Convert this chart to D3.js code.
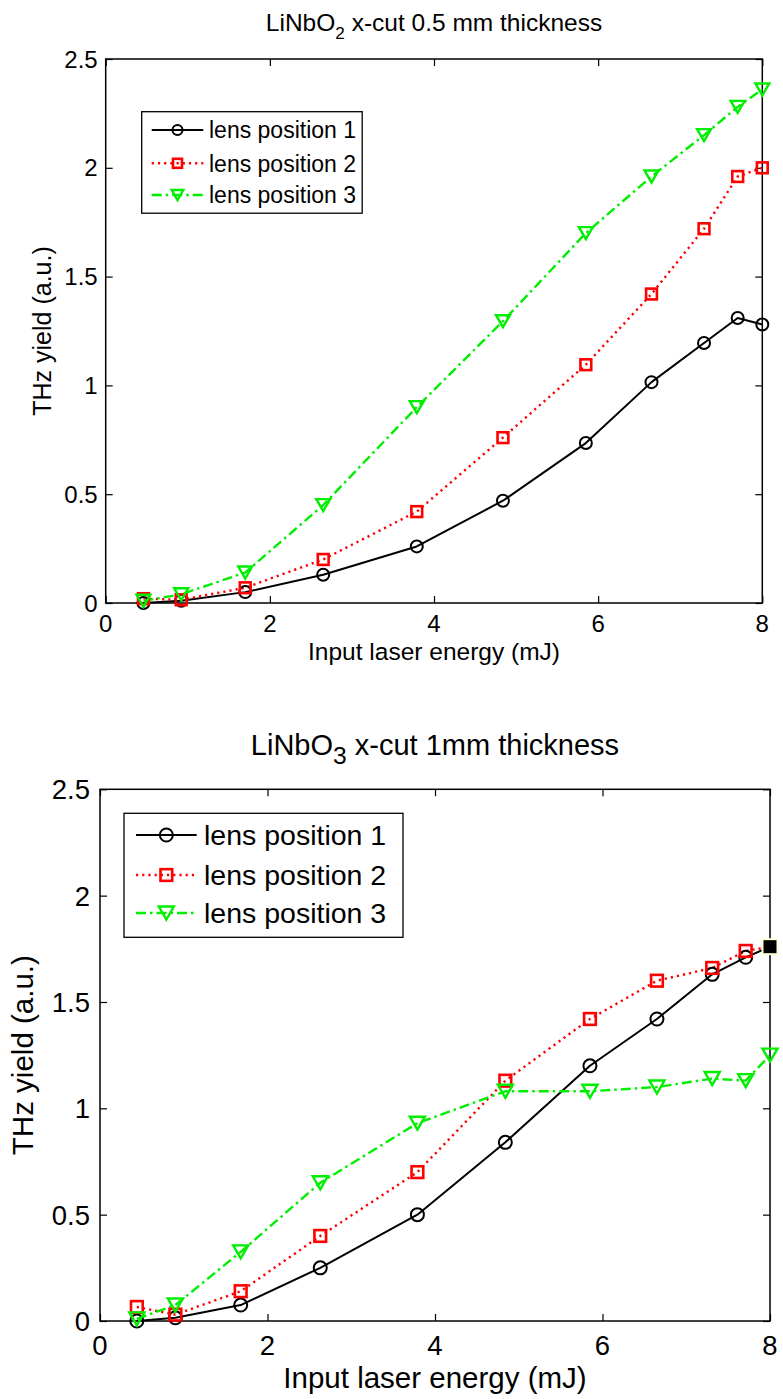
<!DOCTYPE html>
<html>
<head>
<meta charset="utf-8">
<script src="https://cdn.jsdelivr.net/npm/d3@7"></script>
<style>
  html, body { margin: 0; padding: 0; background: #fff; }
  svg { display: block; font-family: Arial, "Liberation Sans", Helvetica, sans-serif; }
</style>
</head>
<body>
<svg id="chart" width="783" height="1399"></svg>
<script>
// ---------- data ----------
const seriesNames = ["lens position 1", "lens position 2", "lens position 3"];
const xTicks = [0, 2, 4, 6, 8];
const yTicks = [0, 0.5, 1, 1.5, 2, 2.5];
const yTickLabels = ["0", "0.5", "1", "1.5", "2", "2.5"];

// Top panel: LiNbO2 x-cut 0.5 mm
const topEnergy = [0.46, 0.92, 1.70, 2.65, 3.79, 4.84, 5.85, 6.65, 7.29, 7.70, 8.0];
const topLens1 = [0.00, 0.01, 0.05, 0.13, 0.26, 0.47, 0.735, 1.015, 1.195, 1.31, 1.28];
const topLens2 = [0.02, 0.015, 0.07, 0.20, 0.42, 0.76, 1.095, 1.42, 1.72, 1.96, 2.00];
const topLens3 = [0.01, 0.04, 0.14, 0.45, 0.90, 1.295, 1.70, 1.96, 2.15, 2.28, 2.36];

// Bottom panel: LiNbO3 x-cut 1 mm
const botEnergy = [0.44, 0.90, 1.68, 2.63, 3.79, 4.84, 5.85, 6.65, 7.31, 7.71, 8.0];
const botLens1 = [0.00, 0.015, 0.075, 0.25, 0.50, 0.84, 1.20, 1.42, 1.63, 1.71, 1.76];
const botLens2 = [0.066, 0.03, 0.14, 0.40, 0.70, 1.13, 1.42, 1.60, 1.66, 1.74, 1.76];
const botLens3 = [0.01, 0.075, 0.325, 0.65, 0.93, 1.08, 1.08, 1.10, 1.14, 1.13, 1.25];

// ---------- styles ----------
const styles = [
  { color: "#000000", dash: null, marker: "circle", width: 2 },
  { color: "#ff0000", dash: "2.2,4", marker: "square", width: 2.4 },
  { color: "#00ee00", dash: "10,4,2.5,4", marker: "triangle", width: 2.4 }
];

const svg = d3.select("#chart");

function marker(g, type, x, y, s, color) {
  if (type === "circle") {
    g.append("circle").attr("cx", x).attr("cy", y).attr("r", s * 0.5)
      .attr("fill", "none").attr("stroke", color).attr("stroke-width", 2);
  } else if (type === "square") {
    const h = s * 0.45;
    g.append("rect").attr("x", x - h).attr("y", y - h).attr("width", 2 * h).attr("height", 2 * h)
      .attr("fill", "none").attr("stroke", color).attr("stroke-width", 2.6);
  } else {
    const w = s * 0.58, hh = s * 0.5;
    g.append("path").attr("d", `M${x - w},${y - hh}L${x + w},${y - hh}L${x},${y + hh}Z`)
      .attr("fill", "none").attr("stroke", color).attr("stroke-width", 2.4);
  }
}

function panel(cfg) {
  const { left, right, top, bottom, energy, series, title, sub, restTitle, fs } = cfg;
  const x = d3.scaleLinear().domain([0, 8]).range([left, right]);
  const y = d3.scaleLinear().domain([0, 2.5]).range([bottom, top]);
  const g = svg.append("g");

  // box
  g.append("rect").attr("x", left).attr("y", top).attr("width", right - left).attr("height", bottom - top)
    .attr("fill", "none").attr("stroke", "#000").attr("stroke-width", 1.5);

  // axes (ticks drawn inward on all four sides)
  const tl = 7;
  const axB = d3.axisBottom(x).tickValues(xTicks).tickSize(-tl).tickFormat("");
  const axT = d3.axisTop(x).tickValues(xTicks).tickSize(-tl).tickFormat("");
  const axL = d3.axisLeft(y).tickValues(yTicks).tickSize(-tl).tickFormat("");
  const axR = d3.axisRight(y).tickValues(yTicks).tickSize(-tl).tickFormat("");
  [[axB, `translate(0,${bottom})`], [axT, `translate(0,${top})`], [axL, `translate(${left},0)`], [axR, `translate(${right},0)`]]
    .forEach(([ax, tr]) => {
      const a = g.append("g").attr("transform", tr).call(ax);
      a.select(".domain").remove();
      a.selectAll("line").attr("stroke", "#000").attr("stroke-width", 1.2);
    });

  // tick labels
  xTicks.forEach(v => {
    g.append("text").attr("x", x(v)).attr("y", bottom + fs.tickDy)
      .attr("text-anchor", "middle").attr("font-size", fs.tick).text(String(v));
  });
  yTicks.forEach((v, i) => {
    g.append("text").attr("x", left - fs.yTickGap).attr("y", y(v) + fs.tick * 0.36)
      .attr("text-anchor", "end").attr("font-size", fs.tick).text(yTickLabels[i]);
  });

  // axis labels
  g.append("text").attr("x", (left + right) / 2).attr("y", bottom + fs.xLabDy)
    .attr("text-anchor", "middle").attr("font-size", fs.label).text("Input laser energy (mJ)");
  g.append("text").attr("transform", `translate(${fs.yLabX},${(top + bottom) / 2}) rotate(-90)`)
    .attr("text-anchor", "middle").attr("font-size", fs.yLabel).text("THz yield (a.u.)");

  // title
  const t = g.append("text").attr("x", (left + right) / 2).attr("y", fs.titleY)
    .attr("text-anchor", "middle").attr("font-size", fs.title);
  t.append("tspan").text(title);
  t.append("tspan").attr("dy", fs.title * 0.32).attr("font-size", fs.title * fs.subScale).text(sub);
  t.append("tspan").attr("dy", -fs.title * 0.32).text(restTitle);

  // lines
  const line = d3.line().x((d, i) => x(energy[i])).y(d => y(d));
  series.forEach((vals, k) => {
    const st = styles[k];
    g.append("path").attr("d", line(vals)).attr("fill", "none").attr("stroke", st.color)
      .attr("stroke-width", st.width).attr("stroke-dasharray", st.dash)
      .attr("stroke-linejoin", "round");
  });
  series.forEach((vals, k) => {
    const st = styles[k];
    vals.forEach((v, i) => marker(g, st.marker, x(energy[i]), y(v), fs.marker, st.color));
  });

  // legend
  const L = cfg.legend;
  g.append("rect").attr("x", L.x).attr("y", L.y).attr("width", L.w).attr("height", L.h)
    .attr("fill", "#fff").attr("stroke", "#000").attr("stroke-width", 1.3);
  seriesNames.forEach((name, k) => {
    const st = styles[k];
    const ry = L.rows[k];
    g.append("line").attr("x1", L.lx1).attr("x2", L.lx2).attr("y1", ry).attr("y2", ry)
      .attr("stroke", st.color).attr("stroke-width", st.width).attr("stroke-dasharray", st.dash);
    marker(g, st.marker, (L.lx1 + L.lx2) / 2, ry, fs.legMarker, st.color);
    g.append("text").attr("x", L.tx).attr("y", ry + fs.legend * 0.36)
      .attr("font-size", fs.legend).text(name);
  });
  return { x, y, g };
}

// ---------- top panel ----------
panel({
  left: 105.7, right: 762.3, top: 59, bottom: 603,
  energy: topEnergy, series: [topLens1, topLens2, topLens3],
  title: "LiNbO", sub: "2", restTitle: " x-cut 0.5 mm thickness",
  fs: { tick: 24, tickDy: 29, yTickGap: 8, label: 24.5, yLabel: 25, xLabDy: 57, yLabX: 51, title: 24.5, titleY: 31, subScale: 0.7,
        marker: 12, legMarker: 10, legend: 23 },
  legend: { x: 141.7, y: 111.7, w: 220.5, h: 101.5, rows: [130, 163.3, 195], lx1: 151.7, lx2: 203.3, tx: 209 }
});

// ---------- bottom panel ----------
const bot = panel({
  left: 100, right: 770, top: 789.3, bottom: 1321,
  energy: botEnergy, series: [botLens1, botLens2, botLens3],
  title: "LiNbO", sub: "3", restTitle: " x-cut 1mm thickness",
  fs: { tick: 27.5, tickDy: 34, yTickGap: 10, label: 29.5, yLabel: 29.5, xLabDy: 67, yLabX: 33, title: 29, titleY: 755, subScale: 0.85,
        marker: 13, legMarker: 13, legend: 28.5 },
  legend: { x: 124, y: 813.3, w: 279, h: 124, rows: [835, 875, 913], lx1: 136, lx2: 196.7, tx: 204 }
});

// data tip marker on the last point of lens position 1 (bottom panel)
const tipI = botEnergy.length - 1;
bot.g.append("rect")
  .attr("x", bot.x(botEnergy[tipI]) - 7.5).attr("y", bot.y(botLens1[tipI]) - 7.5)
  .attr("width", 15).attr("height", 15)
  .attr("fill", "#000").attr("stroke", "#ffffd8").attr("stroke-width", 2);
</script>
</body>
</html>
